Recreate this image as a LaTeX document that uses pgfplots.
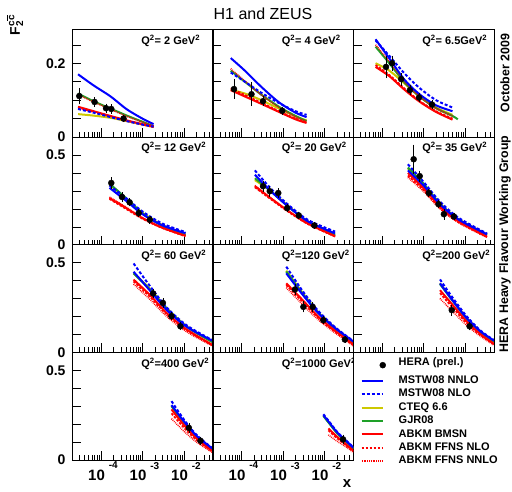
\documentclass[border=0pt]{standalone}
\usepackage{fontspec}
\setmainfont{Liberation Sans}
\usepackage{pgfplots}
\usepackage{pgfplotstable}
\pgfplotsset{compat=1.18}

\definecolor{cteqc}{RGB}{205,200,0}
\definecolor{gjrc}{RGB}{30,160,40}

\newcommand{\tenp}[1]{{\fontsize{15}{15}\selectfont 10}\hspace{4pt}\raisebox{11.5pt}{\fontsize{10}{10}\selectfont #1}}

\pgfplotsset{
  every axis/.append style={
    xmode=log, xmin=2e-5, xmax=0.05, ymin=0,
    scale only axis, width=141pt, height=107.7pt, anchor=south west,
    axis line style={line width=0.7pt},
    tick align=inside, xtick pos=bottom, ytick pos=left,
    xtick={1e-4,1e-3,1e-2}, xticklabels={},
    minor xtick={2e-5,3e-5,4e-5,5e-5,6e-5,7e-5,8e-5,9e-5,2e-4,3e-4,4e-4,5e-4,6e-4,7e-4,8e-4,9e-4,2e-3,3e-3,4e-3,5e-3,6e-3,7e-3,8e-3,9e-3,2e-2,3e-2,4e-2,5e-2},
    major tick length=9pt, minor tick length=5pt,
    tick style={black, line width=0.5pt},
    tick label style={font=\fontsize{14}{14}\selectfont\bfseries},
    yticklabel style={xshift=-3pt},
    xticklabel style={yshift=1.5pt, xshift=2pt},
    unbounded coords=jump,
  },
  hfTop/.style={ymax=0.292, ytick={0,0.05,0.1,0.15,0.2,0.25}, yticklabels={0,,,,0.2,}},
  hfLow/.style={ymax=0.6, ytick={0,0.1,0.2,0.3,0.4,0.5}, yticklabels={0,,,,,0.5}},
  hfNoY/.style={yticklabels={}},
  hfXlab/.style={xticklabels={\tenp{-4},\tenp{-3},\tenp{-2}}},
  hfLegLine/.style={legend image code/.code={\draw[##1] (0pt,0pt) -- (21pt,0pt);}},
  hfLegMark/.style={legend image code/.code={\draw[##1] plot coordinates {(21pt,0pt)};}},
}
\tikzset{
  hfNNLO/.style={draw=blue, line width=2pt},
  hfNLO/.style={draw=blue, line width=2pt, dash pattern=on 3pt off 2pt},
  hfCTEQ/.style={draw=cteqc, line width=2pt},
  hfGJR/.style={draw=gjrc, line width=2pt},
  hfBMSN/.style={draw=red, line width=2pt},
  hfFFNLO/.style={draw=red, line width=1.8pt, dash pattern=on 2.5pt off 1.5pt},
  hfFFNNLO/.style={draw=red, line width=1.5pt, dash pattern=on 0.8pt off 1pt},
}

\newcommand{\curves}[1]{%
  \addplot[hfCTEQ, smooth, forget plot] table[x=x,y=cteq]{#1};
  \addplot[hfGJR, smooth, forget plot] table[x=x,y=gjr]{#1};
  \addplot[hfFFNNLO, smooth, forget plot] table[x=x,y=ffnnlo]{#1};
  \addplot[hfFFNLO, smooth, forget plot] table[x=x,y=ffnlo]{#1};
  \addplot[hfBMSN, smooth, forget plot] table[x=x,y=bmsn]{#1};
  \addplot[hfNLO, smooth, forget plot] table[x=x,y=nlo]{#1};
  \addplot[hfNNLO, smooth, forget plot] table[x=x,y=nnlo]{#1};
}
\newcommand{\hera}[1]{\addplot[black, only marks, mark=*, mark size=3pt, forget plot,
    error bars/.cd, y dir=both, y explicit,
    error bar style={line width=0.6pt},
    error mark options={line width=0.6pt, mark size=2pt}]
  table[x=x,y=y,y error=e]{#1};}
\newcommand{\qlab}[1]{\node[anchor=north west, inner sep=0pt,
  font=\fontsize{11}{11}\selectfont\bfseries] at (rel axis cs:0.49,0.95) {#1};}

% theory curves: x nnlo nlo cteq gjr bmsn ffnlo ffnnlo
\pgfplotstableread{
x       nnlo  nlo   cteq  gjr   bmsn  ffnlo ffnnlo
2.8e-5  0.170 0.076 0.062 0.118 0.082 0.080 0.115
6.6e-5  0.140 0.066 0.058 0.097 0.070 0.068 0.095
1.7e-4  0.110 0.054 0.052 0.077 0.057 0.056 0.075
4.2e-4  0.075 0.043 0.043 0.058 0.045 0.044 0.056
1.07e-3 0.048 0.033 0.033 0.040 0.034 0.033 0.039
1.85e-3 0.035 0.028 0.027 0.029 0.028 0.027 0.030
}\tA
\pgfplotstableread{
x       y     e
3.0e-5  0.111 0.017
7.0e-5  0.095 0.008
1.32e-4 0.078 0.007
1.77e-4 0.076 0.007
3.5e-4  0.050 0.004
}\dA
\pgfplotstableread{
x       nnlo  nlo   cteq  gjr   bmsn  ffnlo ffnnlo
5.5e-5  0.214 0.175 0.128 0.180 0.127 0.132 0.185
1.2e-4  0.180 0.150 0.118 0.150 0.110 0.114 0.152
3.0e-4  0.136 0.120 0.100 0.115 0.090 0.093 0.114
8.0e-4  0.094 0.092 0.077 0.082 0.068 0.070 0.080
2.0e-3  0.066 0.070 0.056 0.057 0.048 0.050 0.055
3.7e-3  0.054 0.060 0.045 0.043 0.038 0.040 0.042
}\tB
\pgfplotstableread{
x       y     e
6.6e-5  0.130 0.021
1.74e-4 0.116 0.027
3.3e-4  0.097 0.008
9.6e-4  0.071 0.006
}\dB
\pgfplotstableread{
x       nnlo  nlo   cteq  gjr   bmsn  ffnlo ffnnlo
7.0e-5  0.265 0.262 0.200 0.245 0.190 0.195 0.250
1.5e-4  0.213 0.220 0.180 0.200 0.165 0.168 0.205
3.5e-4  0.155 0.172 0.145 0.148 0.128 0.131 0.150
8.0e-4  0.116 0.133 0.110 0.110 0.096 0.098 0.110
2.0e-3  0.086 0.100 0.080 0.078 0.068 0.070 0.078
5.0e-3  0.070 0.080 0.060 0.057 0.047 0.050 0.057
6.7e-3  nan   nan   nan   0.048 nan   nan   nan
}\tC
\pgfplotstableread{
x       y     e
1.25e-4 0.190 0.025
1.75e-4 0.200 0.015
2.9e-4  0.157 0.012
4.7e-4  0.127 0.008
7.8e-4  0.107 0.007
1.6e-3  0.088 0.006
}\dC
\pgfplotstableread{
x       nnlo  nlo   cteq  gjr   bmsn  ffnlo ffnnlo
1.6e-4  0.317 0.330 0.335 0.340 0.260 0.255 0.265
4.0e-4  0.245 0.260 0.258 0.260 0.205 0.200 0.210
1.0e-3  0.170 0.185 0.178 0.175 0.148 0.145 0.150
3.0e-3  0.108 0.118 0.110 0.105 0.095 0.093 0.094
1.09e-2 0.064 0.070 0.058 0.052 0.050 0.048 0.046
}\tD
\pgfplotstableread{
x       y     e
1.77e-4 0.344 0.020
3.2e-4  0.266 0.015
4.9e-4  0.236 0.012
8.1e-4  0.176 0.010
1.5e-3  0.139 0.010
}\dD
\pgfplotstableread{
x       nnlo  nlo   cteq  gjr   bmsn  ffnlo ffnnlo
2.1e-4  0.390 0.414 0.360 0.370 0.326 0.320 0.330
5.0e-4  0.300 0.315 0.300 0.300 0.260 0.255 0.262
1.3e-3  0.215 0.225 0.218 0.215 0.190 0.186 0.190
4.0e-3  0.130 0.138 0.130 0.128 0.118 0.115 0.116
1.8e-2  0.063 0.073 0.058 0.052 0.048 0.046 0.045
}\tE
\pgfplotstableread{
x       y     e
3.3e-4  0.326 0.020
4.8e-4  0.298 0.020
7.7e-4  0.288 0.015
1.26e-3 0.204 0.010
2.4e-3  0.163 0.010
5.7e-3  0.107 0.008
}\dE
\pgfplotstableread{
x       nnlo  nlo   cteq  gjr   bmsn  ffnlo ffnnlo
4.2e-4  0.414 0.448 0.425 0.430 0.400 0.385 0.375
1.0e-3  0.330 0.350 0.338 0.340 0.315 0.305 0.297
2.5e-3  0.225 0.240 0.230 0.228 0.212 0.205 0.200
7.0e-3  0.140 0.150 0.142 0.140 0.130 0.126 0.122
3.4e-2  0.058 0.062 0.057 0.055 0.045 0.043 0.040
}\tF
\pgfplotstableread{
x       y     e
5.8e-4  0.476 0.070
8.1e-4  0.382 0.020
1.34e-3 0.288 0.012
2.3e-3  0.226 0.010
3.1e-3  0.170 0.020
5.4e-3  0.157 0.010
}\dF
\pgfplotstableread{
x       nnlo  nlo   cteq  gjr   bmsn  ffnlo ffnnlo
6.1e-4  0.449 0.495 0.440 0.440 0.405 0.395 0.380
1.5e-3  0.345 0.370 0.355 0.350 0.320 0.310 0.295
4.0e-3  0.232 0.245 0.242 0.240 0.215 0.208 0.196
1.2e-2  0.140 0.148 0.142 0.140 0.125 0.120 0.112
5.0e-2  0.063 0.066 0.058 0.055 0.040 0.037 0.034
}\tG
\pgfplotstableread{
x       y     e
1.8e-3  0.328 0.015
3.1e-3  0.275 0.015
5.0e-3  0.201 0.010
8.2e-3  0.145 0.010
}\dG
\pgfplotstableread{
x       nnlo  nlo   cteq  gjr   bmsn  ffnlo ffnnlo
1.2e-3  0.440 0.477 0.455 0.450 0.384 0.375 0.360
3.0e-3  0.320 0.340 0.330 0.325 0.290 0.280 0.265
7.0e-3  0.220 0.232 0.225 0.222 0.200 0.193 0.182
1.8e-2  0.135 0.140 0.136 0.133 0.120 0.115 0.108
5.0e-2  0.060 0.062 0.058 0.056 0.045 0.040 0.035
}\tH
\pgfplotstableread{
x       y     e
1.94e-3 0.350 0.020
3.1e-3  0.253 0.020
5.2e-3  0.253 0.015
9.4e-3  0.179 0.012
3.1e-2  0.071 0.008
}\dH
\pgfplotstableread{
x       nnlo  nlo   cteq  gjr   bmsn  ffnlo ffnnlo
2.5e-3  0.384 0.406 0.385 0.380 0.346 0.330 0.300
5.0e-3  0.290 0.305 0.292 0.288 0.265 0.250 0.228
1.1e-2  0.190 0.200 0.192 0.188 0.172 0.163 0.150
2.4e-2  0.115 0.120 0.115 0.112 0.100 0.095 0.088
5.0e-2  0.065 0.068 0.062 0.060 0.048 0.044 0.040
}\tI
\pgfplotstableread{
x       y     e
4.8e-3  0.235 0.020
1.29e-2 0.145 0.012
}\dI
\pgfplotstableread{
x       nnlo  nlo   cteq  gjr   bmsn  ffnlo ffnnlo
5.0e-3  0.306 0.328 0.300 0.300 0.282 0.260 0.230
1.0e-2  0.215 0.225 0.212 0.210 0.195 0.180 0.160
2.0e-2  0.135 0.140 0.133 0.132 0.120 0.112 0.100
5.0e-2  0.061 0.063 0.059 0.058 0.048 0.045 0.040
}\tJ
\pgfplotstableread{
x       y     e
1.31e-2 0.179 0.015
2.5e-2  0.107 0.010
}\dJ
\pgfplotstableread{
x       nnlo  nlo   cteq  gjr   bmsn  ffnlo ffnnlo
9.4e-3  0.250 0.255 0.248 0.245 nan   nan   nan
1.24e-2 0.215 0.220 0.212 0.210 0.176 0.165 0.140
2.0e-2  0.155 0.158 0.152 0.150 0.130 0.122 0.105
3.2e-2  0.110 0.112 0.107 0.105 0.090 0.085 0.075
5.0e-2  0.068 0.070 0.065 0.064 0.052 0.048 0.042
}\tK
\pgfplotstableread{
x       y     e
2.8e-2  0.115 0.015
}\dK

\begin{document}
\begin{tikzpicture}
\useasboundingbox (0pt,0pt) rectangle (512pt,491pt);

% row 1
\begin{axis}[hfTop, at={(72pt,354pt)}]
  \curves{\tA} \hera{\dA}
  \qlab{Q\textsuperscript{2}= 2 GeV\textsuperscript{2}}
\end{axis}
\begin{axis}[hfTop, hfNoY, at={(212.5pt,354pt)}]
  \curves{\tB} \hera{\dB}
  \qlab{Q\textsuperscript{2}= 4 GeV\textsuperscript{2}}
\end{axis}
\begin{axis}[hfTop, hfNoY, at={(353pt,354pt)}]
  \curves{\tC} \hera{\dC}
  \qlab{Q\textsuperscript{2}= 6.5GeV\textsuperscript{2}}
\end{axis}

% row 2
\begin{axis}[hfLow, at={(72pt,246.3pt)}]
  \curves{\tD} \hera{\dD}
  \qlab{Q\textsuperscript{2}= 12 GeV\textsuperscript{2}}
\end{axis}
\begin{axis}[hfLow, hfNoY, at={(212.5pt,246.3pt)}]
  \curves{\tE} \hera{\dE}
  \qlab{Q\textsuperscript{2}= 20 GeV\textsuperscript{2}}
\end{axis}
\begin{axis}[hfLow, hfNoY, at={(353pt,246.3pt)}]
  \curves{\tF} \hera{\dF}
  \qlab{Q\textsuperscript{2}= 35 GeV\textsuperscript{2}}
\end{axis}

% row 3
\begin{axis}[hfLow, at={(72pt,138.7pt)}]
  \curves{\tG} \hera{\dG}
  \qlab{Q\textsuperscript{2}= 60 GeV\textsuperscript{2}}
\end{axis}
\begin{axis}[hfLow, hfNoY, at={(212.5pt,138.7pt)}]
  \curves{\tH} \hera{\dH}
  \qlab{Q\textsuperscript{2}=120 GeV\textsuperscript{2}}
\end{axis}
\begin{axis}[hfLow, hfNoY, at={(353pt,138.7pt)}]
  \curves{\tI} \hera{\dI}
  \qlab{Q\textsuperscript{2}=200 GeV\textsuperscript{2}}
\end{axis}

% row 4
\begin{axis}[hfLow, hfXlab, at={(72pt,31pt)}]
  \curves{\tJ} \hera{\dJ}
  \qlab{Q\textsuperscript{2}=400 GeV\textsuperscript{2}}
\end{axis}
\begin{axis}[hfLow, hfNoY, hfXlab, at={(212.5pt,31pt)},
  hfLegLine, legend cell align=left,
  legend style={at={(axis description cs:1.05,0.952)}, anchor=north west,
    draw=none, fill=none, inner sep=0pt, row sep=2.9pt, column sep=13pt,
    font=\fontsize{11}{11}\selectfont\bfseries,
    nodes={inner sep=0pt, text height=8pt, text depth=2.5pt}}]
  \curves{\tK} \hera{\dK}
  \qlab{Q\textsuperscript{2}=1000 GeV\textsuperscript{2}}
  \addlegendimage{black, mark=*, mark size=3pt, only marks, hfLegMark}
  \addlegendentry[text depth=7pt]{HERA (prel.)}
  \addlegendimage{hfNNLO}   \addlegendentry{MSTW08 NNLO}
  \addlegendimage{hfNLO}    \addlegendentry{MSTW08 NLO}
  \addlegendimage{hfCTEQ}   \addlegendentry{CTEQ 6.6}
  \addlegendimage{hfGJR}    \addlegendentry{GJR08}
  \addlegendimage{hfBMSN}   \addlegendentry{ABKM BMSN}
  \addlegendimage{hfFFNLO}  \addlegendentry{ABKM FFNS NLO}
  \addlegendimage{hfFFNNLO} \addlegendentry{ABKM FFNS NNLO}
\end{axis}

% surrounding text
\node[font=\fontsize{16}{16}\selectfont] at (263pt,477pt) {H1 and ZEUS};
\node[rotate=90, font=\fontsize{14}{14}\selectfont\bfseries] at (15pt,463pt)
  {F\rlap{\raisebox{0.75ex}{\fontsize{10}{10}\selectfont c$\overline{\hbox{c}}$}}\raisebox{-0.45ex}{\fontsize{10}{10}\selectfont 2}};
\node[inner sep=0pt, font=\fontsize{15}{15}\selectfont\bfseries] at (347pt,7pt) {x};
\node[rotate=90, font=\fontsize{12.4}{12.4}\selectfont\bfseries] at (505pt,418pt) {October 2009};
\node[rotate=90, font=\fontsize{12.4}{12.4}\selectfont\bfseries] at (505pt,247pt) {HERA Heavy Flavour Working Group};
\end{tikzpicture}
\end{document}
